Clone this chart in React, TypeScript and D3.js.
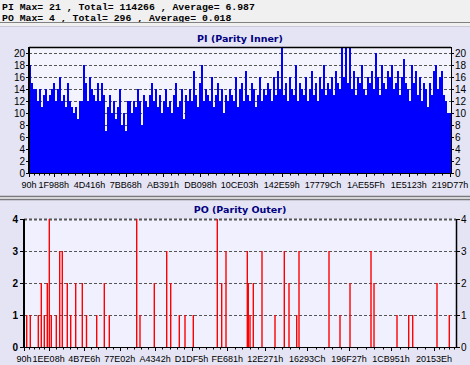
import React from "react";
import * as d3 from "d3";

// header text
const headerLines = [
  "PI Max= 21 , Total= 114266 , Average= 6.987",
  "PO Max= 4 , Total= 296 , Average= 0.018",
];

const piTitle = "PI (Parity Inner)";
const poTitle = "PO (Parity Outer)";

// x axis labels (hex addresses)
const piTickLabels = ["90h", "1F988h", "4D416h", "7BB68h", "AB391h", "DB098h", "10CE03h", "142E59h", "17779Ch", "1AE55Fh", "1E5123h", "219D77h"];
const poTickLabels = ["90h", "1EE08h", "4B7E6h", "77E02h", "A4342h", "D1DF5h", "FE681h", "12E271h", "16293Ch", "196F27h", "1CB951h", "20153Eh"];

const piYTicks = [0, 2, 4, 6, 8, 10, 12, 14, 16, 18, 20];
const poYTicks = [0, 1, 2, 3, 4];

// PI counts per column, read left to right
const piValues = [
  18, 15, 14, 14, 12, 14, 11, 13, 14, 12,
  13, 14, 15, 12, 14, 16, 12, 13, 11, 15,
  12, 11, 10, 11, 9, 12, 12, 18, 15, 12,
  16, 14, 13, 12, 15, 12, 15, 13, 7, 11,
  13, 10, 12, 9, 11, 14, 8, 10, 7, 12,
  12, 10, 12, 11, 14, 12, 8, 13, 12, 11,
  13, 15, 12, 14, 11, 13, 10, 12, 14, 11,
  12, 10, 13, 15, 11, 12, 14, 9, 13, 12,
  14, 12, 17, 13, 11, 15, 18, 12, 14, 13,
  12, 16, 11, 13, 15, 12, 14, 10, 13, 12,
  14, 13, 12, 16, 11, 14, 15, 12, 17, 13,
  12, 15, 14, 11, 13, 16, 12, 14, 13, 15,
  14, 12, 16, 13, 17, 14, 21, 13, 15, 12,
  16, 14, 13, 18, 12, 15, 14, 13, 16, 12,
  14, 17, 13, 15, 12, 16, 14, 18, 13, 15,
  14, 16, 13, 17, 15, 14, 21, 16, 21, 15,
  21, 14, 17, 13, 16, 15, 18, 14, 13, 16,
  15, 17, 14, 20, 16, 13, 18, 15, 14, 17,
  16, 18, 14, 15, 17, 13, 16, 19, 15, 14,
  12, 18, 15, 17, 13, 16, 12, 15, 14, 11,
  15, 13, 17, 18, 14, 16, 17, 13, 12, 10,
  10,
];

// PO error addresses and counts
const poAddresses = [
  14000, 32450, 73480, 88860, 104240, 119630, 129880, 140140, 165780, 183220,
  196550, 222180, 239620, 265260, 299110, 320640, 372950, 411920, 437560, 578070,
  594990, 668320, 731900, 752420, 796520, 825750, 868310, 991380, 1013940, 1036000,
  1145250, 1150380, 1159100, 1176000, 1220600, 1287270, 1334950, 1359050, 1398530, 1410340,
  1564180, 1620590, 1671870, 1779560, 1794950, 1912890, 1972880, 1993400, 2117960, 2181040,
];
const poValues = [
  1, 1, 1, 2, 1, 2, 4, 1, 1, 3,
  3, 2, 1, 2, 2, 1, 1, 2, 1, 4,
  1, 2, 3, 2, 1, 1, 1, 4, 2, 3,
  3, 2, 1, 2, 3, 1, 3, 2, 1, 3,
  3, 1, 2, 3, 2, 1, 1, 1, 2, 1,
];

const W = 470;
const H = 365;
const hex = (s: string) => parseInt(s.slice(0, -1), 16);
const labelFont = "'Liberation Sans', Arial, sans-serif";

function minorTicks(scale: d3.ScaleLinear<number, number>, majors: number[], n: number) {
  const out: number[] = [];
  for (let i = 0; i < majors.length - 1; i++) {
    const a = scale(majors[i]);
    const b = scale(majors[i + 1]);
    for (let k = 1; k < n; k++) out.push(a + ((b - a) * k) / n);
  }
  // continue beyond last major up to the plot end
  const step = (scale(majors[1]) - scale(majors[0])) / n;
  let x = scale(majors[majors.length - 1]) + step;
  while (x < scale.range()[1] - 1) {
    out.push(x);
    x += step;
  }
  return out;
}

export default function App() {
  // PI panel
  const pi = { left: 29, right: 451, top: 47, bottom: 173 };
  const piX = d3.scaleLinear().domain([144, 2208000]).range([pi.left, pi.right]);
  const piY = d3.scaleLinear().domain([0, 21]).range([pi.bottom, pi.top]);
  const piBand = d3
    .scaleBand<number>()
    .domain(d3.range(piValues.length))
    .range([pi.left, pi.right])
    .padding(0);
  const piMajors = piTickLabels.map(hex);

  // PO panel
  const po = { left: 24, right: 456, top: 219, bottom: 347 };
  const poX = d3.scaleLinear().domain([144, 2215400]).range([po.left, po.right]);
  const poY = d3.scaleLinear().domain([0, 4]).range([po.bottom, po.top]);
  const poMajors = poTickLabels.map(hex);

  return (
    <svg
      width={W}
      height={H}
      style={{ position: "absolute", left: 0, top: 0, display: "block" }}
    >
      <rect width={W} height={H} fill="#E4E4F4" />
      {/* header */}
      <rect width={W} height={27} fill="#F0F0F0" />
      {headerLines.map((t, i) => (
        <text
          key={i}
          x={2}
          y={9.5 + i * 11}
          fontFamily="'Liberation Mono', 'DejaVu Sans Mono', monospace"
          fontWeight="bold"
          fontSize={9.8}
          fill="#000"
        >
          {t}
        </text>
      ))}
      <line x1={0} x2={W} y1={22.5} y2={22.5} stroke="#808080" />
      <line x1={0} x2={W} y1={26.5} y2={26.5} stroke="#C8C8D8" />

      {/* ===== PI ===== */}
      <text x={240} y={42} textAnchor="middle" fontFamily="'DejaVu Sans', Verdana, sans-serif" fontWeight="bold" fontSize={9.5} fill="#000080">
        {piTitle}
      </text>
      <rect x={pi.left} y={pi.top} width={pi.right - pi.left} height={pi.bottom - pi.top} fill="#F4F4FF" />
      {piYTicks.filter((v) => v > 0).map((v) => (
        <line key={v} x1={pi.left} x2={pi.right} y1={Math.round(piY(v)) + 0.5} y2={Math.round(piY(v)) + 0.5} stroke="#555" strokeDasharray="3,2" />
      ))}
      {piValues.map((v, i) => (
        <rect
          key={i}
          x={piBand(i)}
          width={piBand.bandwidth()}
          y={piY(v)}
          height={piY(0) - piY(v)}
          fill="#0000FF"
          shapeRendering="crispEdges"
        />
      ))}
      {/* frame */}
      <line x1={pi.left} x2={pi.right} y1={pi.top + 0.5} y2={pi.top + 0.5} stroke="#000" strokeWidth={1.5} />
      <line x1={pi.left} x2={pi.left} y1={pi.top} y2={pi.bottom + 1} stroke="#000" strokeWidth={2} />
      <line x1={pi.right + 0.5} x2={pi.right + 0.5} y1={pi.top} y2={pi.bottom + 1} stroke="#000" />
      <line x1={pi.left} x2={pi.right + 1} y1={pi.bottom + 0.5} y2={pi.bottom + 0.5} stroke="#000" />
      {/* y ticks */}
      {piYTicks.map((v) => (
        <g key={v}>
          <line x1={pi.left - 3} x2={pi.left} y1={Math.round(piY(v)) + 0.5} y2={Math.round(piY(v)) + 0.5} stroke="#000" />
          <line x1={pi.right} x2={pi.right + 3} y1={Math.round(piY(v)) + 0.5} y2={Math.round(piY(v)) + 0.5} stroke="#000" />
          <text x={pi.left - 4} y={piY(v) + 3.5} textAnchor="end" fontFamily={labelFont} fontSize={10} fill="#000">
            {v}
          </text>
          <text x={pi.right + 4} y={piY(v) + 3.5} textAnchor="start" fontFamily={labelFont} fontSize={10} fill="#000">
            {v}
          </text>
        </g>
      ))}
      {/* x ticks */}
      {minorTicks(piX, piMajors, 5).map((x, i) => (
        <line key={"m" + i} x1={Math.round(x) + 0.5} x2={Math.round(x) + 0.5} y1={pi.bottom} y2={pi.bottom + 2.5} stroke="#000" />
      ))}
      {piTickLabels.map((t, i) => {
        const x = piX(piMajors[i]);
        return (
          <g key={t}>
            <line x1={Math.round(x) + 0.5} x2={Math.round(x) + 0.5} y1={pi.bottom} y2={pi.bottom + 4} stroke="#000" />
            <text x={x} y={187.5} textAnchor="middle" fontFamily={labelFont} fontSize={9} fill="#000">
              {t}
            </text>
          </g>
        );
      })}

      {/* separator */}
      <rect x={0} y={196} width={W} height={4} fill="#F4F4FA" />
      <line x1={0} x2={W} y1={196.5} y2={196.5} stroke="#7A7A7A" strokeWidth={1.3} />
      <line x1={0} x2={W} y1={199.5} y2={199.5} stroke="#7A7A7A" strokeWidth={1.3} />

      {/* ===== PO ===== */}
      <text x={240} y={213} textAnchor="middle" fontFamily="'DejaVu Sans', Verdana, sans-serif" fontWeight="bold" fontSize={9.5} fill="#000080">
        {poTitle}
      </text>
      <rect x={po.left} y={po.top} width={po.right - po.left} height={po.bottom - po.top} fill="#F0F0FF" />
      {poYTicks.filter((v) => v > 0).map((v) => (
        <line
          key={v}
          x1={po.left}
          x2={po.right}
          y1={Math.round(poY(v)) + 0.5}
          y2={Math.round(poY(v)) + 0.5}
          stroke="#555"
          strokeWidth={v === 4 ? 2 : 1}
          strokeDasharray="3,2"
        />
      ))}
      {poAddresses.map((a, i) => (
        <line
          key={i}
          x1={poX(a)}
          x2={poX(a)}
          y1={poY(0)}
          y2={poY(poValues[i])}
          stroke="#FF0000"
          strokeWidth={1.4}
        />
      ))}
      <line x1={po.left} x2={po.left} y1={po.top} y2={po.bottom + 1} stroke="#000" strokeWidth={2} />
      <line x1={po.right + 0.5} x2={po.right + 0.5} y1={po.top} y2={po.bottom + 1} stroke="#000" strokeWidth={1.5} />
      <line x1={po.left} x2={po.right + 1} y1={po.bottom + 0.5} y2={po.bottom + 0.5} stroke="#000" />
      {poYTicks.map((v) => (
        <g key={v}>
          <line x1={po.left - 4} x2={po.left} y1={Math.round(poY(v)) + 0.5} y2={Math.round(poY(v)) + 0.5} stroke="#000" />
          <line x1={po.right} x2={po.right + 4} y1={Math.round(poY(v)) + 0.5} y2={Math.round(poY(v)) + 0.5} stroke="#000" />
          <text x={po.left - 6} y={poY(v) + 4} textAnchor="end" fontFamily={labelFont} fontWeight="bold" fontSize={10} fill="#000">
            {v}
          </text>
          <text x={po.right + 5} y={poY(v) + 4} textAnchor="start" fontFamily={labelFont} fontSize={10} fill="#000">
            {v}
          </text>
        </g>
      ))}
      {minorTicks(poX, poMajors, 5).map((x, i) => (
        <line key={"pm" + i} x1={Math.round(x) + 0.5} x2={Math.round(x) + 0.5} y1={po.bottom} y2={po.bottom + 2.5} stroke="#000" />
      ))}
      {poTickLabels.map((t, i) => {
        const x = poX(poMajors[i]);
        return (
          <g key={t}>
            <line x1={Math.round(x) + 0.5} x2={Math.round(x) + 0.5} y1={po.bottom} y2={po.bottom + 4} stroke="#000" />
            <text x={x} y={361.5} textAnchor="middle" fontFamily={labelFont} fontSize={9} fill="#000">
              {t}
            </text>
          </g>
        );
      })}
    </svg>
  );
}
